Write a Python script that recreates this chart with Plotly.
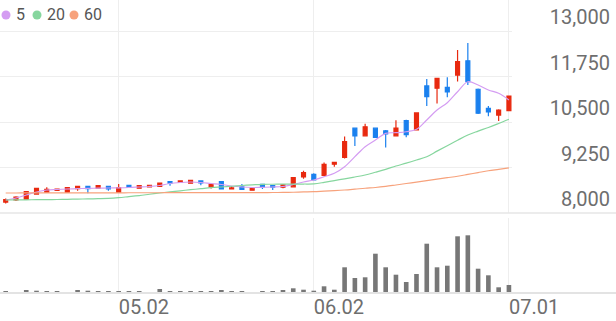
import plotly.graph_objects as go

dates = ["04.16", "04.17", "04.18", "04.21", "04.22", "04.23", "04.24", "04.25", "04.28", "04.29",
         "04.30", "05.02", "05.07", "05.08", "05.09", "05.12", "05.13", "05.14", "05.15", "05.16",
         "05.19", "05.20", "05.21", "05.22", "05.23", "05.26", "05.27", "05.28", "05.29", "05.30",
         "06.02", "06.04", "06.05", "06.09", "06.10", "06.11", "06.12", "06.13", "06.16", "06.17",
         "06.18", "06.19", "06.20", "06.23", "06.24", "06.25", "06.26", "06.27", "06.30", "07.01"]

open_ = [8300, 8360, 8380, 8520, 8570, 8620, 8570, 8670, 8730, 8680,
         8730, 8570, 8760, 8680, 8720, 8730, 8860, 8840, 8820, 8880,
         8720, 8860, 8660, 8720, 8625, 8790, 8750, 8710, 8720, 8990,
         9060, 9030, 9340, 9530, 10330, 10120, 10330, 10260, 10120, 10540,
         10280, 11490, 11430, 11450, 11790, 12180, 11400, 10875, 10690, 10810]
high = [8400, 8460, 8600, 8690, 8710, 8670, 8700, 8740, 8740, 8760,
        8740, 8800, 8770, 8760, 8770, 8830, 8870, 8890, 8910, 8890,
        8800, 8870, 8740, 8800, 8690, 8800, 8760, 8800, 8980, 9160,
        9090, 9390, 9400, 10100, 10340, 10450, 10350, 10280, 10550, 10560,
        10760, 11680, 11710, 11730, 12480, 12670, 11420, 10940, 10850, 11230]
low = [8260, 8330, 8370, 8510, 8560, 8610, 8560, 8610, 8540, 8670,
       8610, 8560, 8690, 8670, 8710, 8720, 8750, 8830, 8810, 8760,
       8670, 8650, 8650, 8640, 8615, 8660, 8630, 8680, 8710, 8940,
       8900, 9010, 9270, 9500, 9840, 10100, 10060, 9800, 10100, 10080,
       10270, 10940, 11010, 11180, 11610, 11520, 10720, 10660, 10530, 10800]
close = [8370, 8440, 8590, 8680, 8650, 8660, 8695, 8730, 8670, 8750,
         8660, 8695, 8700, 8750, 8760, 8820, 8820, 8880, 8900, 8830,
         8790, 8660, 8690, 8650, 8680, 8720, 8710, 8770, 8970, 9110,
         8910, 9340, 9390, 9960, 10120, 10370, 10080, 10170, 10330, 10150,
         10750, 11195, 11700, 11330, 12160, 11610, 10740, 10780, 10830, 11210]

ma5 = [8357, 8412, 8494, 8577, 8632, 8645, 8659, 8668, 8679, 8681,
       8687, 8692, 8700, 8714, 8728, 8755, 8810, 8838, 8852, 8838,
       8810, 8783, 8742, 8714, 8700, 8706, 8714, 8728, 8783, 8852,
       8906, 8997, 9090, 9272, 9547, 9822, 10005, 10189, 10206, 10233,
       10299, 10555, 10829, 11030, 11332, 11607, 11516, 11379, 11288, 11104]
ma20 = [8357, 8360, 8362, 8365, 8368, 8371, 8376, 8382, 8388, 8393,
        8400, 8420, 8450, 8480, 8515, 8549, 8580, 8610, 8640, 8668,
        8695, 8715, 8735, 8755, 8772, 8788, 8790, 8792, 8794, 8796,
        8800, 8840, 8890, 8940, 8990, 9044, 9120, 9200, 9290, 9370,
        9456, 9547, 9700, 9850, 10000, 10143, 10250, 10350, 10460, 10574]
ma60 = [8550, 8550, 8551, 8551, 8552, 8552, 8553, 8553, 8554, 8554,
        8555, 8555, 8556, 8556, 8557, 8557, 8558, 8558, 8559, 8559,
        8560, 8560, 8561, 8561, 8562, 8562, 8563, 8565, 8570, 8578,
        8585, 8600, 8615, 8632, 8655, 8680, 8700, 8730, 8770, 8810,
        8850, 8890, 8930, 8970, 9010, 9060, 9110, 9160, 9200, 9240]

volume = [34, 20, 60, 46, 34, 40, 20, 60, 46, 34,
          34, 34, 34, 26, 14, 80, 40, 34, 34, 40,
          34, 60, 26, 34, 14, 26, 40, 60, 94, 66,
          46, 134, 66, 514, 300, 314, 786, 514, 366, 220,
          380, 986, 514, 546, 1134, 1154, 486, 354, 114, 160]

price_ticks = [8000, 9250, 10500, 11750, 13000]
date_ticks = ["05.02", "06.02", "07.01"]

ma_legend = [("5", "#d49cf2"), ("20", "#86d69e"), ("60", "#f7a27c")]

UP = "#e8290f"
DOWN = "#1a80ee"
GRID = "#eeeeee"
LABEL = "#6e6e6e"

fig = go.Figure()
fig.add_trace(go.Candlestick(
    x=dates, open=open_, high=high, low=low, close=close,
    increasing=dict(line=dict(color=UP, width=1.2), fillcolor=UP),
    decreasing=dict(line=dict(color=DOWN, width=1.2), fillcolor=DOWN),
    whiskerwidth=0, showlegend=False, xaxis="x", yaxis="y", hoverinfo="skip"))
for (name, col), vals in zip(ma_legend, [ma5, ma20, ma60]):
    fig.add_trace(go.Scatter(x=dates, y=vals, mode="lines",
                             line=dict(color=col, width=1.2, shape="spline"),
                             showlegend=False, xaxis="x", yaxis="y", hoverinfo="skip"))
fig.add_trace(go.Bar(x=dates, y=volume, marker=dict(color="#777777", line=dict(width=0)),
                     showlegend=False, xaxis="x", yaxis="y2", hoverinfo="skip"))

annotations = []
shapes = [
    dict(type="line", xref="paper", yref="paper", x0=0, x1=1,
         y0=(293 - 213) / 293, y1=(293 - 213) / 293,
         line=dict(color="#e6e6e6", width=1.5)),
    dict(type="line", xref="paper", yref="paper", x0=0, x1=1, y0=0, y1=0,
         line=dict(color="#e3e3e3", width=2)),
]
legend_cy = (293 - 15) / 293
for (name, col), cx in zip(ma_legend, [6, 37, 74]):
    shapes.append(dict(type="circle", xref="paper", yref="paper",
                       xsizemode="pixel", ysizemode="pixel",
                       xanchor=cx / 616, yanchor=legend_cy,
                       x0=-4.5, x1=4.5, y0=-4.5, y1=4.5,
                       fillcolor=col, line=dict(width=0)))
    annotations.append(dict(
        xref="paper", yref="paper", x=(cx + 8) / 616, y=legend_cy,
        xanchor="left", yanchor="middle", showarrow=False, text=name,
        font=dict(family="Roboto, sans-serif", size=16, color="#555555")))

fig.update_layout(
    width=616, height=321,
    margin=dict(l=0, r=0, t=0, b=28, autoexpand=False),
    paper_bgcolor="white", plot_bgcolor="white",
    showlegend=False,
    boxgap=0.45, bargap=0.55,
    font=dict(family="Roboto, sans-serif"),
    xaxis=dict(domain=[0, 512 / 616], type="category", range=[-0.555, 49.3],
               tickvals=date_ticks, ticktext=date_ticks, anchor="y2",
               showgrid=True, gridcolor=GRID, gridwidth=1, zeroline=False, showline=False,
               ticks="", ticklabelposition="outside right", automargin=False,
               tickfont=dict(size=20, color=LABEL),
               rangeslider=dict(visible=False)),
    yaxis=dict(domain=[(293 - 213) / 293, 1], range=[8000, 13852],
               anchor="free", position=0.995, side="right", automargin=False,
               tickvals=price_ticks, tickformat=",d", ticklabelposition="inside top",
               ticks="", showgrid=True, gridcolor=GRID, gridwidth=1,
               zeroline=False, showline=False,
               tickfont=dict(size=20, color=LABEL)),
    yaxis2=dict(domain=[0, 75 / 293], range=[0, 1500], anchor="x", automargin=False,
                showgrid=False, zeroline=False, showticklabels=False, ticks=""),
    shapes=shapes,
    annotations=annotations,
)

fig.write_html("out.html")
